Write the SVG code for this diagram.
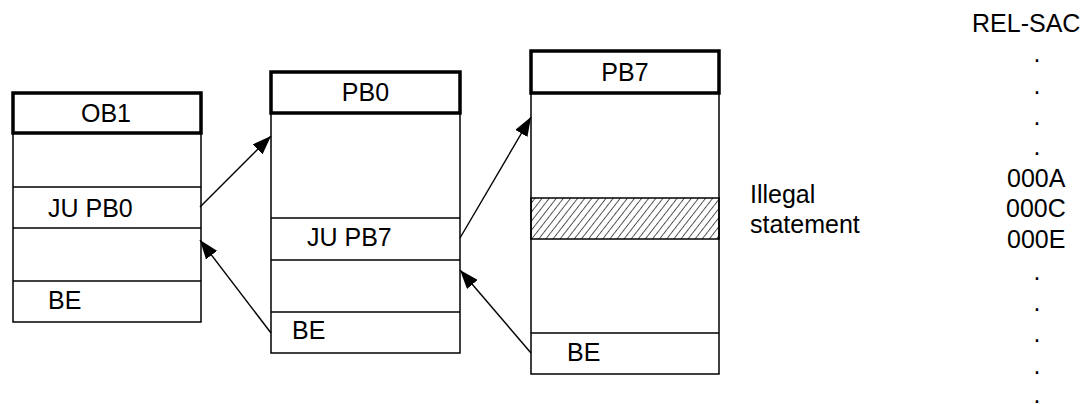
<svg xmlns="http://www.w3.org/2000/svg" width="1083" height="404" viewBox="0 0 1083 404">
<defs>
<style>
.hdr{fill:#fff;stroke:#000;stroke-width:3.5}
.body{fill:#fff;stroke:#000;stroke-width:1.5}
.row{stroke:#000;stroke-width:1.5}
.lbl{font-family:"Liberation Sans",Arial,sans-serif;font-size:25px;fill:#000}
.mid{text-anchor:middle}
.con{stroke:#000;stroke-width:1.4;fill:none;marker-end:url(#ah)}
</style>
<marker id="ah" markerUnits="userSpaceOnUse" markerWidth="20" markerHeight="14" refX="19" refY="7" orient="auto">
<path d="M0,0 L19,7 L0,14 z" fill="#000"/>
</marker>
<pattern id="hatch" patternUnits="userSpaceOnUse" width="5.6" height="7" patternTransform="rotate(38)">
<line x1="0" y1="0" x2="0" y2="7" stroke="#000" stroke-width="1.3"/>
</pattern>
</defs>
<rect width="1083" height="404" fill="#fff"/>

<g id="OB1">
<rect class="body" x="13" y="133" width="188" height="189"/>
<line class="row" x1="13" y1="187" x2="201" y2="187"/>
<line class="row" x1="13" y1="228" x2="201" y2="228"/>
<line class="row" x1="13" y1="281" x2="201" y2="281"/>
<rect class="hdr" x="13" y="93" width="188" height="40"/>
<text class="lbl mid" x="106" y="122">OB1</text>
<text class="lbl" x="48" y="217">JU PB0</text>
<text class="lbl" x="48" y="309">BE</text>
</g>

<g id="PB0">
<rect class="body" x="271" y="113" width="189" height="240"/>
<line class="row" x1="271" y1="218" x2="460" y2="218"/>
<line class="row" x1="271" y1="260" x2="460" y2="260"/>
<line class="row" x1="271" y1="312" x2="460" y2="312"/>
<rect class="hdr" x="271" y="72" width="189" height="41"/>
<text class="lbl mid" x="365.5" y="101">PB0</text>
<text class="lbl" x="307" y="246">JU PB7</text>
<text class="lbl" x="292" y="339">BE</text>
</g>

<g id="PB7">
<rect class="body" x="531" y="93" width="188" height="281"/>
<rect x="531" y="198" width="188" height="41" fill="url(#hatch)" stroke="#000" stroke-width="1.5"/>
<line class="row" x1="531" y1="333" x2="719" y2="333"/>
<rect class="hdr" x="531" y="51" width="188" height="42"/>
<text class="lbl mid" x="625" y="81">PB7</text>
<text class="lbl" x="567" y="361">BE</text>
</g>

<g id="illegal">
<text class="lbl" x="750" y="203">Illegal</text>
<text class="lbl" x="750" y="233">statement</text>
</g>

<g id="relsac">
<text class="lbl" x="972" y="32">REL-SAC</text>
<text class="lbl mid" x="1037" y="61.5">.</text>
<text class="lbl mid" x="1037" y="93.5">.</text>
<text class="lbl mid" x="1037" y="124.5">.</text>
<text class="lbl mid" x="1037" y="154.5">.</text>
<text class="lbl" x="1007" y="187">000A</text>
<text class="lbl" x="1006" y="217">000C</text>
<text class="lbl" x="1007" y="248">000E</text>
<text class="lbl mid" x="1037" y="279.5">.</text>
<text class="lbl mid" x="1037" y="310.5">.</text>
<text class="lbl mid" x="1037" y="341.5">.</text>
<text class="lbl mid" x="1037" y="373.5">.</text>
<text class="lbl mid" x="1037" y="403">.</text>
</g>

<g id="connectors">
<line class="con" x1="200" y1="207" x2="271" y2="136"/>
<line class="con" x1="271" y1="333" x2="200" y2="240"/>
<line class="con" x1="460" y1="238" x2="531" y2="117"/>
<line class="con" x1="531" y1="353" x2="460" y2="270"/>
</g>
</svg>
